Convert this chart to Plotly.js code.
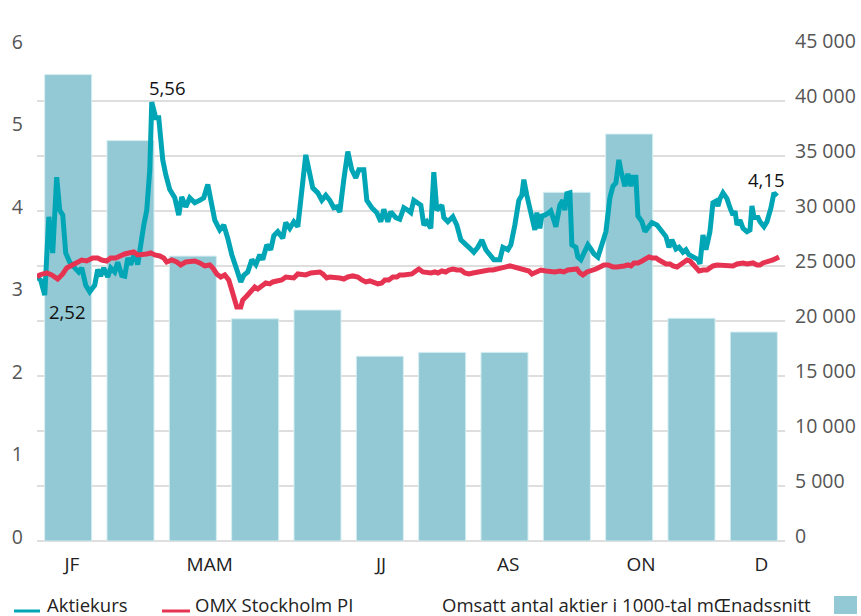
<!DOCTYPE html>
<html>
<head>
<meta charset="utf-8">
<script src="https://cdn.plot.ly/plotly-3.0.1.min.js"></script>
<style>html,body{margin:0;padding:0;background:#fff;}#chart{width:861px;height:616px;}</style>
</head>
<body>
<div id="chart"></div>
<script>
// Month positions for the bars (0 = January ... 11 = December)
var monthPos = [0,1,2,3,4,5,6,7,8,9,10,11];
// Omsatt antal aktier i 1000-tal, månadssnitt (right axis)
var volume = [42400,36400,25900,20200,21000,16800,17150,17150,31700,37000,20250,19000];

// x-axis tick labels
var tickPos = [0.06,2.27,5.02,7.06,9.19,11.12];
var tickText = ["JF","MAM","JJ","AS","ON","D"];
var leftTicks = [0,1,2,3,4,5,6];

// Aktiekurs (left axis), x in month units
var aktieX = [-0.5,-0.44,-0.376,-0.31,-0.248,-0.184,-0.135,-0.087,-0.039,0.025,
0.105,0.17,0.218,0.282,0.346,0.426,0.474,0.522,0.57,0.635,
0.683,0.747,0.795,0.86,0.908,0.956,1.004,1.068,1.116,1.165,
1.213,1.261,1.309,1.341,1.405,1.453,1.517,1.566,1.63,1.71,
1.774,1.822,1.887,1.951,2.031,2.111,2.175,2.24,2.304,2.352,
2.432,2.496,2.56,2.625,2.705,2.769,2.817,2.881,2.946,3.01,
3.074,3.122,3.186,3.25,3.299,3.363,3.443,3.491,3.555,3.62,
3.684,3.764,3.812,3.924,4.005,4.069,4.133,4.197,4.261,4.31,
4.358,4.422,4.486,4.55,4.615,4.663,4.743,4.791,4.871,4.951,
5.016,5.064,5.128,5.176,5.256,5.32,5.385,5.449,5.497,5.545,
5.609,5.658,5.706,5.754,5.818,5.866,5.914,5.995,6.027,6.091,
6.171,6.235,6.3,6.364,6.428,6.508,6.572,6.637,6.701,6.765,
6.829,6.926,6.974,7.054,7.102,7.166,7.23,7.278,7.31,7.358,
7.439,7.487,7.519,7.567,7.599,7.647,7.711,7.743,7.792,7.824,
7.888,7.936,7.968,8.0,8.049,8.065,8.081,8.145,8.177,8.225,
8.273,8.337,8.386,8.434,8.498,8.562,8.627,8.691,8.739,8.787,
8.835,8.867,8.932,8.98,9.028,9.06,9.108,9.14,9.205,9.253,
9.317,9.365,9.445,9.494,9.59,9.638,9.686,9.751,9.799,9.863,
9.911,9.959,10.023,10.104,10.136,10.184,10.232,10.296,10.344,10.393,
10.425,10.457,10.505,10.569,10.617,10.665,10.698,10.73,10.778,10.826,
10.89,10.938,10.97,11.003,11.067,11.099,11.163,11.211,11.275,11.323,11.372];
var aktieY = [3.20,3.16,2.98,3.93,3.49,4.41,4.01,3.95,3.49,3.38,
3.31,3.26,3.31,3.10,3.02,3.10,3.29,3.21,3.31,3.20,
3.31,3.26,3.38,3.22,3.21,3.43,3.35,3.50,3.35,3.65,
3.83,4.01,4.50,5.32,5.13,5.13,4.62,4.44,4.26,4.16,
3.95,4.17,4.05,4.16,4.10,4.13,4.16,4.32,4.07,3.89,
3.77,3.83,3.67,3.47,3.29,3.14,3.22,3.26,3.41,3.35,
3.47,3.41,3.59,3.53,3.70,3.75,3.67,3.86,3.79,3.87,
3.81,4.38,4.68,4.28,4.22,4.13,4.19,4.13,4.04,4.05,
3.99,4.38,4.72,4.50,4.40,4.50,4.50,4.13,4.04,3.98,
3.87,4.02,3.87,3.99,3.92,3.90,4.04,4.01,3.98,4.13,
4.10,4.07,3.83,3.87,3.79,4.47,4.01,4.07,3.92,3.87,
3.93,3.83,3.65,3.61,3.56,3.50,3.56,3.65,3.53,3.47,
3.41,3.41,3.56,3.53,3.59,3.83,4.13,4.19,4.38,4.19,
3.95,3.77,3.98,3.79,3.94,3.95,3.98,4.00,3.89,3.81,
4.07,4.13,4.01,4.21,4.22,3.92,3.59,3.56,3.44,3.41,
3.50,3.59,3.54,3.48,3.44,3.59,3.75,4.16,4.30,4.34,
4.62,4.49,4.30,4.45,4.30,4.41,4.41,3.94,3.87,3.75,
3.81,3.86,3.83,3.79,3.69,3.56,3.65,3.54,3.56,3.50,
3.53,3.47,3.44,3.41,3.36,3.71,3.53,3.75,4.10,4.12,
4.06,4.15,4.22,4.15,4.04,3.95,4.00,3.83,3.89,3.79,
3.75,3.77,4.06,3.92,3.92,3.87,3.81,3.87,4.04,4.22,4.18];

// OMX Stockholm PI (indexed to the share price, left axis)
var omxX = [-0.5,-0.457,-0.345,-0.264,-0.168,-0.087,-0.023,0.057,0.153,0.217,
0.297,0.393,0.473,0.538,0.618,0.683,0.763,0.827,0.908,0.972,
1.052,1.116,1.18,1.261,1.325,1.389,1.469,1.533,1.581,1.662,
1.742,1.806,1.886,1.966,2.031,2.111,2.191,2.271,2.319,2.384,
2.448,2.512,2.576,2.625,2.673,2.705,2.769,2.801,2.865,2.929,
2.994,3.042,3.106,3.170,3.234,3.283,3.347,3.427,3.491,3.555,
3.62,3.684,3.748,3.812,3.893,3.973,4.037,4.085,4.149,4.197,
4.278,4.358,4.422,4.486,4.566,4.647,4.711,4.775,4.839,4.904,
4.968,5.032,5.08,5.144,5.209,5.273,5.321,5.385,5.45,5.514,
5.578,5.626,5.69,5.754,5.819,5.883,5.931,5.995,6.059,6.108,
6.172,6.236,6.3,6.365,6.429,6.493,6.557,6.621,6.686,6.75,
6.814,6.894,6.959,7.023,7.087,7.135,7.183,7.264,7.328,7.392,
7.44,7.504,7.584,7.664,7.745,7.809,7.889,7.953,8.017,8.098,
8.162,8.21,8.258,8.323,8.387,8.467,8.531,8.596,8.66,8.74,
8.804,8.853,8.917,8.981,9.029,9.077,9.142,9.206,9.27,9.318,
9.366,9.431,9.479,9.543,9.591,9.655,9.703,9.768,9.816,9.88,
9.928,9.976,10.024,10.073,10.121,10.185,10.249,10.297,10.345,10.41,
10.474,10.522,10.57,10.618,10.666,10.731,10.779,10.827,10.891,10.939,
10.987,11.051,11.099,11.147,11.212,11.26,11.308,11.372,11.404];
var omxY = [3.200,3.225,3.249,3.225,3.176,3.237,3.310,3.346,3.382,3.406,
3.394,3.431,3.431,3.406,3.394,3.431,3.431,3.455,3.479,3.491,
3.504,3.467,3.467,3.479,3.491,3.467,3.455,3.431,3.382,3.406,
3.382,3.346,3.382,3.394,3.394,3.370,3.334,3.346,3.310,3.237,
3.200,3.225,3.164,3.043,2.921,2.837,2.837,2.921,2.970,3.031,
3.079,3.055,3.091,3.128,3.116,3.140,3.152,3.164,3.200,3.188,
3.188,3.237,3.225,3.225,3.249,3.249,3.261,3.237,3.188,3.200,
3.200,3.188,3.176,3.200,3.213,3.200,3.164,3.140,3.152,3.128,
3.116,3.128,3.164,3.164,3.200,3.200,3.225,3.225,3.225,3.237,
3.273,3.297,3.261,3.249,3.249,3.261,3.249,3.273,3.261,3.285,
3.297,3.285,3.285,3.249,3.237,3.249,3.261,3.261,3.285,3.285,
3.285,3.297,3.297,3.322,3.334,3.322,3.310,3.297,3.285,3.273,
3.237,3.261,3.285,3.273,3.261,3.261,3.273,3.261,3.285,3.285,
3.297,3.249,3.225,3.261,3.273,3.297,3.322,3.346,3.346,3.322,
3.322,3.334,3.334,3.346,3.334,3.370,3.370,3.394,3.419,3.443,
3.431,3.431,3.406,3.382,3.358,3.358,3.334,3.322,3.346,3.382,
3.406,3.394,3.358,3.310,3.273,3.285,3.285,3.310,3.334,3.346,
3.346,3.346,3.346,3.334,3.334,3.358,3.370,3.370,3.358,3.358,
3.370,3.346,3.346,3.370,3.382,3.394,3.406,3.431,3.443];

// Point labels
var labelText = ["5,56","2,52","4,15"];
var labelX = [1.341,-0.376,11.372];
var labelY = [5.32,2.98,4.18];

var TEAL = "#00a6b6";
var RED = "#e63352";
var BAR = "#92c9d4";
var FONT = "Open Sans, sans-serif";

var traces = [
  {type:"bar", x:monthPos, y:volume, yaxis:"y", name:"Omsatt antal aktier i 1000-tal mŒnadssnitt",
   marker:{color:BAR, line:{color:"#d6eef2", width:1}}, hoverinfo:"y"},
  {type:"scatter", mode:"lines", x:aktieX, y:aktieY, yaxis:"y2", name:"Aktiekurs",
   line:{color:TEAL, width:5, shape:"linear"}},
  {type:"scatter", mode:"lines", x:omxX, y:omxY, yaxis:"y2", name:"OMX Stockholm PI",
   line:{color:RED, width:5, shape:"linear"}}
];

var anns = [];
var shifts = [[16,15],[23,-16],[-11,17]];
for (var i=0;i<labelText.length;i++){
  anns.push({x:labelX[i], y:labelY[i], xref:"x", yref:"y2", text:labelText[i], showarrow:false,
    xshift:shifts[i][0], yshift:shifts[i][1], font:{family:FONT, size:18.5, color:"#111"}});
}
// legend texts
function px(x){return (x-37)/748;}
function py(y){return (541-y)/495;}
anns.push({x:px(45), y:py(604), xref:"paper", yref:"paper", xanchor:"left", yanchor:"middle", text:"Aktiekurs", showarrow:false, font:{family:FONT,size:18.5,color:"#222"}});
anns.push({x:px(193), y:py(604), xref:"paper", yref:"paper", xanchor:"left", yanchor:"middle", text:"OMX Stockholm PI", showarrow:false, font:{family:FONT,size:18.5,color:"#222"}});
anns.push({x:px(440), y:py(604), xref:"paper", yref:"paper", xanchor:"left", yanchor:"middle", text:"Omsatt antal aktier i 1000-tal mŒnadssnitt", showarrow:false, font:{family:FONT,size:18.5,color:"#222"}});

var shapes = [
  {type:"line", xref:"paper", yref:"paper", x0:px(14), x1:px(40), y0:py(611), y1:py(611), line:{color:TEAL, width:3}},
  {type:"line", xref:"paper", yref:"paper", x0:px(162), x1:px(190), y0:py(611), y1:py(611), line:{color:RED, width:3}},
  {type:"rect", xref:"paper", yref:"paper", x0:px(834), x1:px(857), y0:py(614), y1:py(596), fillcolor:BAR, line:{width:0}}
];

var layout = {
  width:861, height:616,
  margin:{l:37, r:76, t:46, b:75, pad:0},
  paper_bgcolor:"#fff", plot_bgcolor:"#fff",
  separators:", ",
  showlegend:false,
  bargap:0.245,
  font:{family:FONT, size:19, color:"#555"},
  xaxis:{range:[-0.5,11.5], tickmode:"array", tickvals:tickPos, ticktext:tickText,
    showgrid:false, zeroline:false, showline:false, ticks:"",
    tickfont:{family:FONT, size:19, color:"#222"}, ticklabelstandoff:10, fixedrange:true},
  yaxis:{range:[0,45000], side:"right", tickmode:"linear", tick0:0, dtick:5000,
    tickformat:",d", showgrid:true, gridcolor:"#dedede", gridwidth:1.3, zeroline:true, zerolinecolor:"#dedede", zerolinewidth:1.3,
    showline:false, ticks:"", tickfont:{family:FONT, size:19.5, color:"#555"},
    ticklabelstandoff:9, ticklabelshift:-5, fixedrange:true},
  yaxis2:{range:[0,6], overlaying:"y", side:"left", tickmode:"array", tickvals:leftTicks, showgrid:false, zeroline:false,
    showline:false, ticks:"", tickfont:{family:FONT, size:19.5, color:"#555"},
    ticklabelstandoff:13, ticklabelshift:-4, fixedrange:true},
  annotations:anns,
  shapes:shapes
};

Plotly.newPlot("chart", traces, layout, {displayModeBar:false, staticPlot:true});
</script>
</body>
</html>
